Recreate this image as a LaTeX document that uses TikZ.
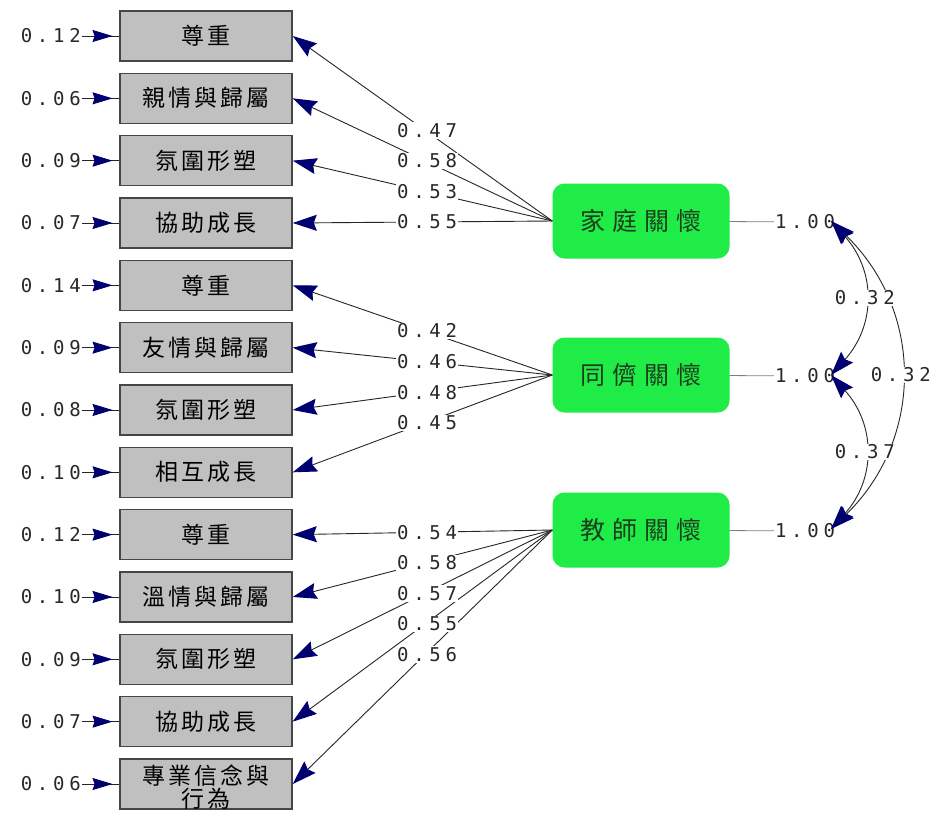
\documentclass[tikz,border=0pt]{standalone}
\usepackage{fontspec}
\newfontfamily\numf[LetterSpace=25]{DejaVu Sans Mono}
\newfontfamily\cjkb[LetterSpace=14]{Noto Sans CJK TC}
\newfontfamily\cjkl[LetterSpace=28]{Noto Sans CJK TC}
\usetikzlibrary{arrows.meta,decorations.markings}
\definecolor{boxgray}{RGB}{192,192,192}
\definecolor{boxline}{RGB}{70,70,70}
\definecolor{latgreen}{RGB}{32,236,72}
\definecolor{navyarrow}{RGB}{0,0,112}
\definecolor{lattext}{RGB}{30,60,30}
\definecolor{numtext}{RGB}{40,40,40}
\tikzset{
  headL/.tip={Stealth[length=24pt,width=16pt,inset=3pt,color=navyarrow]},
  headS/.tip={Stealth[length=20pt,width=12pt,inset=2pt,color=navyarrow]},
  obs/.style={draw=boxline, line width=1.5pt, fill=boxgray, minimum width=172pt, minimum height=50pt, inner sep=0pt, font=\cjkb\fontsize{23}{26}\selectfont},
  lat/.style={fill=latgreen, rounded corners=12pt, minimum width=177pt, minimum height=75pt, inner sep=0pt, text=lattext, font=\cjkl\fontsize{25}{30}\selectfont},
  num/.style={font=\numf\fontsize{19}{22}\selectfont, text=numtext, inner sep=1pt},
  lbl/.style={num, fill=white},
  load/.style={draw=black!85, line width=0.9pt, -headL},
  err/.style={draw=black!85, line width=0.9pt, postaction={decorate}, decoration={markings, mark=at position 0.82 with {\arrow{headS}}}},
  cov/.style={draw=black!85, line width=0.9pt, headL-headL},
  varline/.style={draw=gray, line width=0.8pt}
}
\begin{document}
\begin{tikzpicture}[x=1pt,y=-1pt]
\fill[white] (0,0) rectangle (936,812);
\useasboundingbox (0,0) rectangle (936,812);
% observed boxes and errors
\foreach \i/\t/\e in {1/尊重/0.12, 2/親情與歸屬/0.06, 3/氛圍形塑/0.09, 4/協助成長/0.07, 5/尊重/0.14, 6/友情與歸屬/0.09, 7/氛圍形塑/0.08, 8/相互成長/0.10, 9/尊重/0.12, 10/溫情與歸屬/0.10, 11/氛圍形塑/0.09, 12/協助成長/0.07}{
  \node[obs] (b\i) at (206,{36+62.33*(\i-1)}) {\t};
  \node[num, anchor=east] (e\i) at (82,{36+62.33*(\i-1)}) {\e};
  \draw[err] (e\i) -- (b\i);
}
\node[obs, label={[anchor=north, yshift=-3pt, align=center, font=\cjkb\fontsize{23}{23}\selectfont]north:專業信念與\\行為}] (b13) at (206,784) {};
\node[num, anchor=east] (e13) at (82,784) {0.06};
\draw[err] (e13) -- (b13);
% latent variables
\node[lat] (L1) at (641,221) {家庭關懷};
\node[lat] (L2) at (641,375) {同儕關懷};
\node[lat] (L3) at (641,530) {教師關懷};
% variances
\node[num] (v1) at (805,222) {1.00};
\node[num] (v2) at (805,376) {1.00};
\node[num] (v3) at (805,531) {1.00};
\draw[varline] (L1) -- (v1);
\draw[varline] (L2) -- (v2);
\draw[varline] (L3) -- (v3);
% loadings
\foreach \b/\l in {1/L1,2/L1,3/L1,4/L1,5/L2,6/L2,7/L2,8/L2,9/L3,10/L3,11/L3,12/L3,13/L3}{
  \draw[load] (\l.west) -- (b\b.east);
}
\foreach \b/\l/\v in {1/L1/0.47,2/L1/0.58,3/L1/0.53,4/L1/0.55,5/L2/0.42,6/L2/0.46,7/L2/0.48,8/L2/0.45,9/L3/0.54,10/L3/0.58,11/L3/0.57,12/L3/0.55,13/L3/0.56}{
  \path (\l.west) -- (b\b.east) node[lbl, pos=0.49, xshift=2pt] {\v};
}
% covariances
\coordinate (c1) at (831,221);
\coordinate (c2) at (831,375);
\coordinate (c3) at (831,529);
\draw[cov] (c1) .. controls +(45,50) and +(45,-50) .. (c2);
\draw[cov] (c2) .. controls +(45,50) and +(45,-50) .. (c3);
\draw[cov] (c1) .. controls +(93,90) and +(93,-90) .. (c3);
\path (c1) .. controls +(45,50) and +(45,-50) .. (c2) node[lbl, pos=0.5] {0.32};
\path (c2) .. controls +(45,50) and +(45,-50) .. (c3) node[lbl, pos=0.5] {0.37};
\path (c1) .. controls +(93,90) and +(93,-90) .. (c3) node[lbl, pos=0.5] {0.32};
\end{tikzpicture}
\end{document}
